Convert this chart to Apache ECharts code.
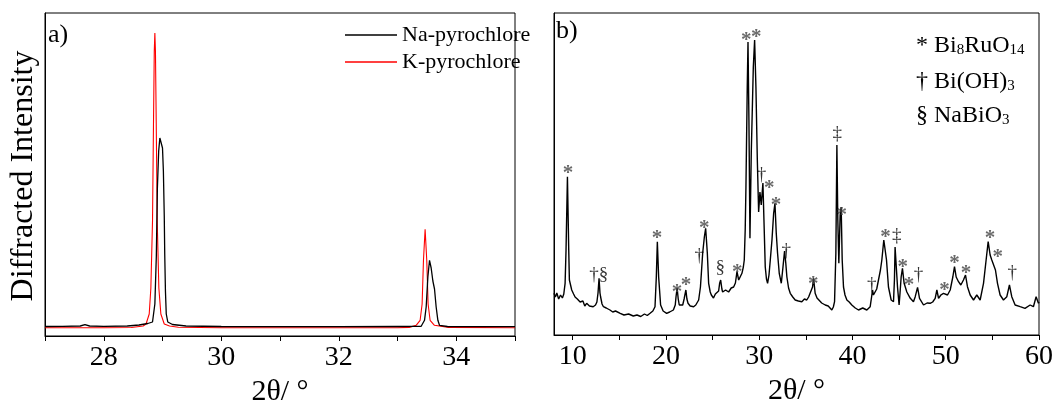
<!DOCTYPE html>
<html><head><meta charset="utf-8">
<script src="https://cdn.jsdelivr.net/npm/echarts@6/dist/echarts.min.js"></script>
<style>html,body{margin:0;padding:0;background:#fff}#c{width:1057px;height:400px}</style>
</head><body><div id="c"></div>
<script>
// ---------- Panel a data ----------
const naX = [27.0,27.3,27.6,27.68,27.76,28.0,28.4,28.6,28.75,28.83,28.87,28.895,28.913,28.935,28.955,28.97,28.985,29.0,29.015,29.03,29.038,29.05,29.064,29.09,29.17,29.4,30.0,31.0,32.0,33.0,33.3,33.403,33.46,33.488,33.517,33.545,33.573,33.602,33.63,33.658,33.687,33.715,33.85,34.5,35.0];
const naY = [9.5,9.6,10,11.3,10,9.6,10,11,12.5,14,32,80,148,185,198,200,198,188,165,120,82,45,22,14,11.5,10,9.5,9.3,9.3,9.5,9.6,9.7,15.7,29,59,75.7,68,55,47,29,15.7,10.7,9.5,9.3,9.3];
const kX = [27.0,28.0,28.47,28.67,28.72,28.774,28.802,28.83,28.847,28.86,28.87,28.88,28.893,28.91,28.938,28.972,29.03,29.12,29.27,30.0,33.0,33.2,33.317,33.385,33.419,33.442,33.47,33.498,33.521,33.555,33.629,33.87,35.0];
const kY = [8.3,8.3,8.5,10,12,22,48,115,215,285,303,285,215,115,48,22,12,10,8.8,8.3,8.3,8.6,10.7,15.7,32,75.7,106.7,75.7,32,15.7,10.7,8.6,8.3];
const aTicks = [27,28,29,30,31,32,33,34,35];
const aLabels = [28,30,32,34];

// ---------- Panel b data ----------
const bX = [8.0,8.15,8.3,8.5,8.7,8.9,9.05,9.19,9.29,9.44,9.58,9.65,9.9,10.1,10.26,10.5,10.8,11.1,11.3,11.5,11.8,12.0,12.2,12.45,12.6,12.72,12.83,12.93,13.0,13.15,13.3,13.6,14.0,14.3,14.6,15.1,15.5,16.0,16.5,16.9,17.3,17.7,18.0,18.3,18.6,18.83,18.97,19.08,19.22,19.43,19.7,20.08,20.4,20.8,21.0,21.08,21.2,21.32,21.43,21.6,21.8,21.95,22.14,22.25,22.37,22.6,22.97,23.2,23.51,23.7,23.8,23.94,24.12,24.26,24.44,24.58,24.75,24.87,25.1,25.3,25.47,25.65,25.76,25.87,26.0,26.08,26.4,26.72,27.0,27.26,27.45,27.62,27.72,27.8,28.0,28.15,28.3,28.4,28.5,28.58,28.72,28.8,28.9,29.01,29.15,29.37,29.51,29.65,29.8,29.94,30.08,30.22,30.4,30.51,30.65,30.78,30.9,31.05,31.19,31.37,31.55,31.69,31.83,31.97,32.15,32.37,32.55,32.72,32.85,32.97,33.15,33.33,33.6,33.86,34.2,34.57,34.85,35.1,35.3,35.47,35.72,35.83,36.0,36.2,36.36,36.7,37.08,37.4,37.79,37.95,38.08,38.22,38.33,38.43,38.54,38.68,38.79,38.9,39.04,39.2,39.4,39.65,39.93,40.3,40.65,41.1,41.54,41.9,42.05,42.15,42.25,42.36,42.6,42.79,43.0,43.15,43.36,43.5,43.65,43.86,44.15,44.4,44.5,44.57,44.68,44.83,45.0,45.1,45.22,45.36,45.54,45.83,46.2,46.54,46.73,46.98,47.19,47.62,48.0,48.33,48.6,48.87,49.05,49.23,49.48,49.76,50.19,50.48,50.76,50.94,51.12,51.37,51.62,51.9,52.12,52.33,52.62,52.98,53.33,53.69,54.05,54.33,54.55,54.76,54.94,55.12,55.33,55.55,55.83,56.19,56.55,56.83,57.08,57.44,57.98,58.5,59.05,59.4,59.69,59.94,60.0];
const bY = [41.7,38,42,36,40,37,41,51.7,85,158.3,85,55,45,41,38,36,33,34,29,31.7,29,30,28.3,30,33,42,56.7,42,38,31,28.3,27,25,23,24,21.7,20,21,19,20,18.5,21,19.5,21.7,24,28.3,58,93.3,58,30,24,21.7,23,25,30,38,47,36,30,28,30,36,45,36,31.7,29,28.3,30,35,48,61.7,81.7,98,106.7,81.7,51.7,43,40,37,41,40,44,51.7,55,46,43,45,43,47,48,52,63.3,62,55,57,61.7,68,75,105,148,248,293,215,96.7,181.7,268,295,248,175,123,143,130,152,115,68,56,51.7,60,75,95,121.7,131.7,101.7,81.7,61.7,51.7,68,84,72,58,47,41.7,38,35,34,33.3,36,35,38,38.3,48,56.7,41.7,37,35,32,30,29,25,28,33.3,81.7,190,115,71.7,120,128,75,48,40,35,33,30,27,25,27,25,28.3,38,45,40,38.3,46,55,65,75,95,96.7,75,48,35,33.3,55,88,90,48,30,42,58,66.7,51.7,43,36.7,33.3,38.3,47.7,36.7,30,32,31.7,33,36.7,45,36.7,40,41.7,40,45,58,68.3,58,53.3,50,55,60,48.3,40,35,40,35,51.7,75,93.3,80,75,73.3,65,51.7,40,35,38.3,50,38.3,30,28.3,26.7,30,28.3,38.3,31.7,33];
const bTicks = [10,15,20,25,30,35,40,45,50,55,60];
const bLabels = [10,20,30,40,50,60];

// peak annotations for panel b
const annX = [9.5,12.8,19.04,21.18,22.14,23.57,24.1,25.82,27.64,28.6,29.68,30.25,31.07,31.79,32.9,35.79,38.36,38.86,42.07,43.54,44.75,45.4,46.07,47.07,49.86,50.93,52.18,54.75,55.57,57.14];
const annY = [170,68.3,105.7,51.7,58.3,86.7,115,75,71.7,303,306.7,168,155,138,91.7,59,206.7,128,58.3,106.7,105,76.7,58.3,68.3,53.3,80,70.7,105,86.7,70];
const annText = ['*','†§','*','*','*','†','*','§','*','*','*','†','*','*','†','*','‡','*','†','*','‡','*','*','†','*','*','*','*','*','†'];

const SERIF = '"Liberation Serif","Times New Roman",serif';
const zip = (xs, ys) => xs.map((x, i) => [x, ys[i]]);

const annData = annX.map((x, i) => {
  const t = annText[i];
  const star = t === '*';
  const dbl = t === '‡';
  return {
    value: [x, annY[i]],
    label: {
      formatter: t,
      color: star ? '#444' : '#000',
      fontWeight: star ? 'bold' : 'normal',
      fontSize: star ? 21 : 19,
      offset: star ? [0, 9] : (dbl ? [0, 6] : [0, 8])
    }
  };
});

const richLegend = {
  m: {fontSize: 24, fontFamily: SERIF, fill: '#000', verticalAlign: 'bottom', lineHeight: 30},
  s: {fontSize: 15, fontFamily: SERIF, fill: '#000', verticalAlign: 'bottom', lineHeight: 8}
};

const chart = echarts.init(document.getElementById('c'), null, {renderer: 'canvas'});
chart.setOption({
  animation: false,
  backgroundColor: '#fff',
  textStyle: {fontFamily: SERIF},
  grid: [
    {left: 45, top: 13, width: 470, height: 323, show: true, borderColor: '#000', borderWidth: 1, backgroundColor: 'transparent', outerBoundsMode: 'none', containLabel: false},
    {left: 554, top: 13, width: 485, height: 322, show: true, borderColor: '#000', borderWidth: 1, backgroundColor: 'transparent', outerBoundsMode: 'none', containLabel: false}
  ],
  xAxis: [
    {gridIndex: 0, type: 'value', min: 27, max: 35,
     name: '2θ/ °', nameLocation: 'middle', nameGap: 39,
     nameTextStyle: {fontSize: 30, color: '#000', fontFamily: SERIF},
     axisLine: {show: true, lineStyle: {color: '#000', width: 1}},
     axisTick: {show: true, inside: false, length: 5, customValues: aTicks, lineStyle: {color: '#000', width: 1}},
     axisLabel: {show: true, customValues: aLabels, fontSize: 28, color: '#000', margin: 8, fontFamily: SERIF},
     splitLine: {show: false}},
    {gridIndex: 1, type: 'value', min: 8, max: 60,
     name: '2θ/ °', nameLocation: 'middle', nameGap: 39,
     nameTextStyle: {fontSize: 30, color: '#000', fontFamily: SERIF},
     axisLine: {show: true, lineStyle: {color: '#000', width: 1}},
     axisTick: {show: true, inside: false, length: 5, customValues: bTicks, lineStyle: {color: '#000', width: 1}},
     axisLabel: {show: true, customValues: bLabels, fontSize: 28, color: '#000', margin: 8, fontFamily: SERIF},
     splitLine: {show: false}}
  ],
  yAxis: [
    {gridIndex: 0, type: 'value', min: 0, max: 323,
     axisLine: {show: true, lineStyle: {color: '#000'}}, axisTick: {show: false}, axisLabel: {show: false}, splitLine: {show: false}},
    {gridIndex: 1, type: 'value', min: 0, max: 322,
     axisLine: {show: true, lineStyle: {color: '#000'}}, axisTick: {show: false}, axisLabel: {show: false}, splitLine: {show: false}}
  ],
  legend: {
    data: ['Na-pyrochlore', 'K-pyrochlore'],
    orient: 'vertical', left: 340, top: 19,
    icon: 'rect', itemWidth: 52, itemHeight: 1.5, itemGap: 5,
    textStyle: {fontSize: 22, color: '#000', fontFamily: SERIF, lineHeight: 22},
    selectedMode: false
  },
  series: [
    {name: 'Na-pyrochlore', type: 'line', xAxisIndex: 0, yAxisIndex: 0, data: zip(naX, naY),
     showSymbol: false, symbol: 'none', color: '#000', lineStyle: {color: '#000', width: 1.3}, z: 3},
    {name: 'K-pyrochlore', type: 'line', xAxisIndex: 0, yAxisIndex: 0, data: zip(kX, kY),
     showSymbol: false, symbol: 'none', color: '#ff0000', lineStyle: {color: '#ff0000', width: 1.1}, z: 2},
    {name: 'pattern b', type: 'line', xAxisIndex: 1, yAxisIndex: 1, data: zip(bX, bY),
     showSymbol: false, symbol: 'none', color: '#000', lineStyle: {color: '#000', width: 1.4}},
    {name: 'marks', type: 'scatter', xAxisIndex: 1, yAxisIndex: 1, data: annData,
     symbolSize: 0, silent: true, z: 5,
     label: {show: true, position: 'inside', align: 'center', verticalAlign: 'middle', fontFamily: SERIF}}
  ],
  graphic: [
    {type: 'text', x: 24, y: 176, rotation: Math.PI / 2,
     style: {text: 'Diffracted Intensity', font: '32px ' + SERIF, fill: '#000', align: 'center', verticalAlign: 'middle'}},
    {type: 'text', left: 48, top: 22, style: {text: 'a)', font: '26px ' + SERIF, fill: '#000'}},
    {type: 'text', left: 556, top: 18, style: {text: 'b)', font: '26px ' + SERIF, fill: '#000'}},
    {type: 'text', left: 916, top: 34, style: {text: '{m|* Bi}{s|8}{m|RuO}{s|14}', rich: richLegend}},
    {type: 'text', left: 916, top: 70, style: {text: '{m|† Bi(OH)}{s|3}', rich: richLegend}},
    {type: 'text', left: 916, top: 104, style: {text: '{m|§ NaBiO}{s|3}', rich: richLegend}}
  ]
});
</script></body></html>
